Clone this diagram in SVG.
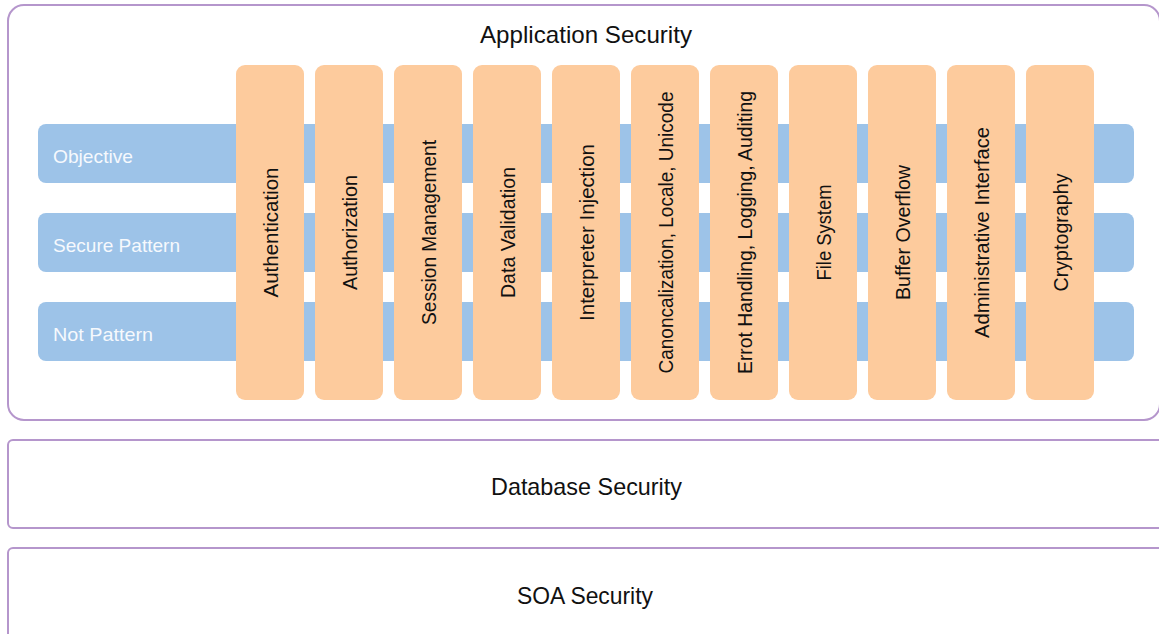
<svg xmlns="http://www.w3.org/2000/svg" width="1159" height="634" viewBox="0 0 1159 634">
  <style>
    .layer { fill: #ffffff; stroke: #b596cc; stroke-width: 2; }
    .band { fill: #9dc3e8; }
    .pillar { fill: #fdcb9d; }
    .title { font-family: "Liberation Sans", Arial, sans-serif; font-size: 24px; fill: #111111; text-anchor: middle; }
    .band-label { font-family: "Liberation Sans", Arial, sans-serif; font-size: 19px; fill: #f6f9fd; }
    .pillar-label { font-family: "Liberation Sans", Arial, sans-serif; font-size: 20px; fill: #111111; text-anchor: middle; }
  </style>
  <rect width="1159" height="634" fill="#ffffff"/>

  <!-- layers -->
  <g id="application-security">
    <rect class="layer" x="8" y="5" width="1152" height="415" rx="16"/>
    <text class="title" x="586" y="43" textLength="212" lengthAdjust="spacingAndGlyphs">Application Security</text>
  </g>
  <g id="database-security">
    <rect class="layer" x="8" y="440" width="1180" height="88" rx="5"/>
    <text class="title" x="586.5" y="495" textLength="191" lengthAdjust="spacingAndGlyphs">Database Security</text>
  </g>
  <g id="soa-security">
    <rect class="layer" x="8" y="548" width="1180" height="120" rx="5"/>
    <text class="title" x="585" y="604" textLength="136" lengthAdjust="spacingAndGlyphs">SOA Security</text>
  </g>

  <!-- horizontal bands -->
  <g id="band-objective">
    <rect class="band" x="38" y="124" width="1096" height="59" rx="8"/>
    <text class="band-label" x="53" y="163" textLength="80" lengthAdjust="spacingAndGlyphs">Objective</text>
  </g>
  <g id="band-secure-pattern">
    <rect class="band" x="38" y="213" width="1096" height="59" rx="8"/>
    <text class="band-label" x="53" y="252" textLength="127" lengthAdjust="spacingAndGlyphs">Secure Pattern</text>
  </g>
  <g id="band-not-pattern">
    <rect class="band" x="38" y="302" width="1096" height="59" rx="8"/>
    <text class="band-label" x="53" y="341" textLength="100" lengthAdjust="spacingAndGlyphs">Not Pattern</text>
  </g>

  <!-- vertical pillars -->
  <g id="pillar-authentication">
    <rect class="pillar" x="236" y="65" width="68" height="335" rx="9"/>
    <text class="pillar-label" transform="translate(278,232.5) rotate(-90)" textLength="130" lengthAdjust="spacingAndGlyphs">Authentication</text>
  </g>
  <g id="pillar-authorization">
    <rect class="pillar" x="315" y="65" width="68" height="335" rx="9"/>
    <text class="pillar-label" transform="translate(357,232.5) rotate(-90)" textLength="115" lengthAdjust="spacingAndGlyphs">Authorization</text>
  </g>
  <g id="pillar-session-management">
    <rect class="pillar" x="394" y="65" width="68" height="335" rx="9"/>
    <text class="pillar-label" transform="translate(436,232.5) rotate(-90)" textLength="185" lengthAdjust="spacingAndGlyphs">Session Management</text>
  </g>
  <g id="pillar-data-validation">
    <rect class="pillar" x="473" y="65" width="68" height="335" rx="9"/>
    <text class="pillar-label" transform="translate(515,232.5) rotate(-90)" textLength="131" lengthAdjust="spacingAndGlyphs">Data Validation</text>
  </g>
  <g id="pillar-interpreter-injection">
    <rect class="pillar" x="552" y="65" width="68" height="335" rx="9"/>
    <text class="pillar-label" transform="translate(594,232.5) rotate(-90)" textLength="177" lengthAdjust="spacingAndGlyphs">Interpreter Injection</text>
  </g>
  <g id="pillar-canonicalization">
    <rect class="pillar" x="631" y="65" width="68" height="335" rx="9"/>
    <text class="pillar-label" transform="translate(673,232.5) rotate(-90)" textLength="282" lengthAdjust="spacingAndGlyphs">Canoncalization, Locale, Unicode</text>
  </g>
  <g id="pillar-error-handling">
    <rect class="pillar" x="710" y="65" width="68" height="335" rx="9"/>
    <text class="pillar-label" transform="translate(752,232.5) rotate(-90)" textLength="283" lengthAdjust="spacingAndGlyphs">Errot Handling, Logging, Auditing</text>
  </g>
  <g id="pillar-file-system">
    <rect class="pillar" x="789" y="65" width="68" height="335" rx="9"/>
    <text class="pillar-label" transform="translate(831,232.5) rotate(-90)" textLength="96" lengthAdjust="spacingAndGlyphs">File System</text>
  </g>
  <g id="pillar-buffer-overflow">
    <rect class="pillar" x="868" y="65" width="68" height="335" rx="9"/>
    <text class="pillar-label" transform="translate(910,232.5) rotate(-90)" textLength="135" lengthAdjust="spacingAndGlyphs">Buffer Overflow</text>
  </g>
  <g id="pillar-administrative-interface">
    <rect class="pillar" x="947" y="65" width="68" height="335" rx="9"/>
    <text class="pillar-label" transform="translate(989,232.5) rotate(-90)" textLength="211" lengthAdjust="spacingAndGlyphs">Administrative Interface</text>
  </g>
  <g id="pillar-cryptography">
    <rect class="pillar" x="1026" y="65" width="68" height="335" rx="9"/>
    <text class="pillar-label" transform="translate(1068,232.5) rotate(-90)" textLength="118" lengthAdjust="spacingAndGlyphs">Cryptography</text>
  </g>

  <!-- no connectors in this layered view -->
  <g id="connectors"/>
</svg>
